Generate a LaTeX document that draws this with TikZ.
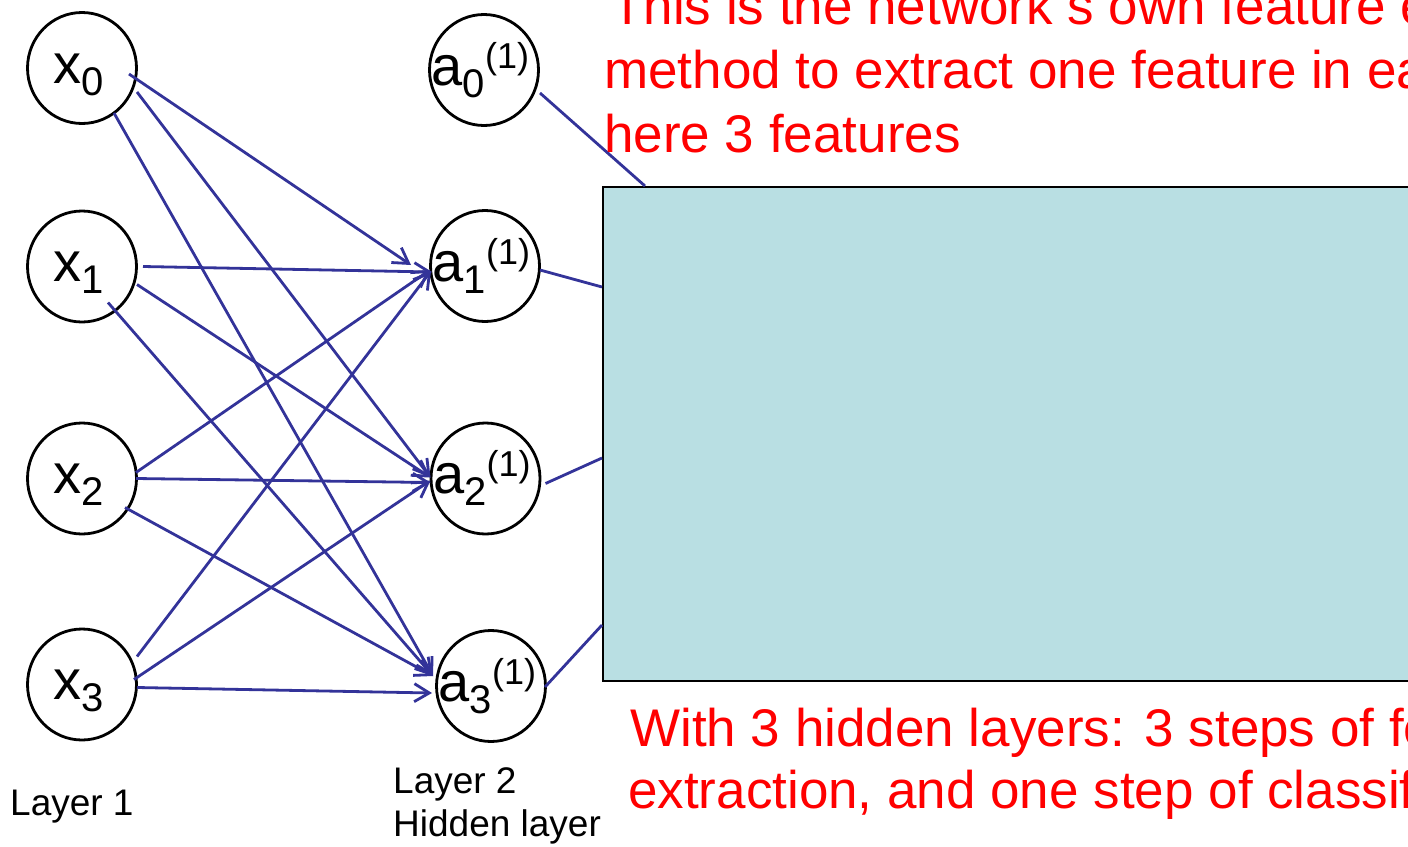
\documentclass[tikz,border=0pt]{standalone}
\usepackage{fontspec}
\setmainfont{Liberation Sans}
\usetikzlibrary{arrows.meta,calc,shapes.geometric}

\definecolor{netblue}{RGB}{51,51,153}
\definecolor{boxfill}{RGB}{185,223,227}
\definecolor{notered}{RGB}{255,0,0}

% unit label: letter, subscript index, superscript layer
\newcommand\unitlbl[3]{\makebox[0pt]{#1\raisebox{-12pt}{\fontsize{40}{40}\selectfont #2}\raisebox{17pt}{\fontsize{36}{36}\selectfont #3}\kern7pt}}

\begin{document}
\begin{tikzpicture}[x=1pt,y=-1pt,
  unit/.style={ellipse, draw=black, line width=2.8pt, minimum width=109pt,
    minimum height=111pt, inner sep=0pt, text height=30pt, text depth=0pt,
    font=\fontsize{56}{56}\selectfont},
  wire/.style={draw=netblue, line width=2.8pt},
  feed/.style={wire, -{Straight Barb[length=15pt,width=18pt]}},
  featbox/.style={draw=black, line width=2pt, fill=boxfill, inner sep=0pt},
  note/.style={text=notered, font=\fontsize{53}{64}\selectfont, anchor=base west, inner sep=0pt},
  caption/.style={text=black, font=\fontsize{37}{43}\selectfont, anchor=base west, inner sep=0pt}
]
\useasboundingbox (0,0) rectangle (1408,846);
\clip (0,0) rectangle (1408,846);

% feature box (runs past the right edge)
\node[featbox, anchor=north west, minimum width=840pt, minimum height=494pt] (fbox) at (602,186) {};

% input layer
\node[unit] (x0) at (82,68)    {\unitlbl{x}{0}{}};
\node[unit] (x1) at (82,266.5) {\unitlbl{x}{1}{}};
\node[unit] (x2) at (82,478.5) {\unitlbl{x}{2}{}};
\node[unit] (x3) at (82,684.5) {\unitlbl{x}{3}{}};

% hidden layer
\node[unit] (a0) at (484,70)    {\unitlbl{a}{0}{(1)}};
\node[unit] (a1) at (485,266)   {\unitlbl{a}{1}{(1)}};
\node[unit] (a2) at (485.5,478.5) {\unitlbl{a}{2}{(1)}};
\node[unit] (a3) at (491,686)   {\unitlbl{a}{3}{(1)}};

% weights from the input layer
\draw[feed] ($(x0.center)+(47,6)$)   -- ($(a1.center)+(-74,-1)$);
\draw[feed] ($(x0.center)+(55,24)$)  -- ($(a2.center)+(-55,-1)$);
\draw[feed] ($(x0.center)+(32,45)$)  -- ($(a3.center)+(-58,-10)$);
\draw[feed] ($(x1.center)+(61,0)$)   -- ($(a1.center)+(-53,6)$);
\draw[feed] ($(x1.center)+(55,18)$)  -- ($(a2.center)+(-55,-1)$);
\draw[feed] ($(x1.center)+(26,36)$)  -- ($(a3.center)+(-58,-10)$);
\draw[feed] ($(x2.center)+(54,-6)$)  -- ($(a1.center)+(-55,4)$);
\draw[feed] ($(x2.center)+(54,0)$)   -- ($(a2.center)+(-55,4)$);
\draw[feed] ($(x2.center)+(43,29)$)  -- ($(a3.center)+(-58,-10)$);
\draw[feed] ($(x3.center)+(55,-28)$) -- ($(a1.center)+(-54,5)$);
\draw[feed] ($(x3.center)+(52,-5)$)  -- ($(a2.center)+(-55,2)$);
\draw[feed] ($(x3.center)+(55,3)$)   -- ($(a3.center)+(-59,7)$);

% hidden units into the feature box
\draw[wire] ($(a0.center)+(56,23)$) -- ($(fbox.north west)+(43,0)$);
\draw[wire] ($(a1.center)+(55,4)$)  -- ($(fbox.north west)+(0,101)$);
\draw[wire] ($(a2.center)+(60,5)$)  -- ($(fbox.north west)+(0,272)$);
\draw[wire] ($(a3.center)+(54,1)$)  -- ($(fbox.north west)+(0,439)$);

% notes
\node[note] (t1) at (611,24)  {This is the network s own feature extraction};
\node[note] (t2) at (604,88)  {method to extract one feature in each};
\node[note] (t3) at (604,152) {here 3 features};
\node[note] (b1) at (630,746) {With 3 hidden layers: 3 steps of feature};
\node[note] (b2) at (628,808) {extraction, and one step of classification};

% layer captions
\node[caption] (l1) at (10,815)  {Layer 1};
\node[caption] (l2) at (393,793) {Layer 2};
\node[caption] (l3) at (393,836) {Hidden layer};
\end{tikzpicture}
\end{document}
